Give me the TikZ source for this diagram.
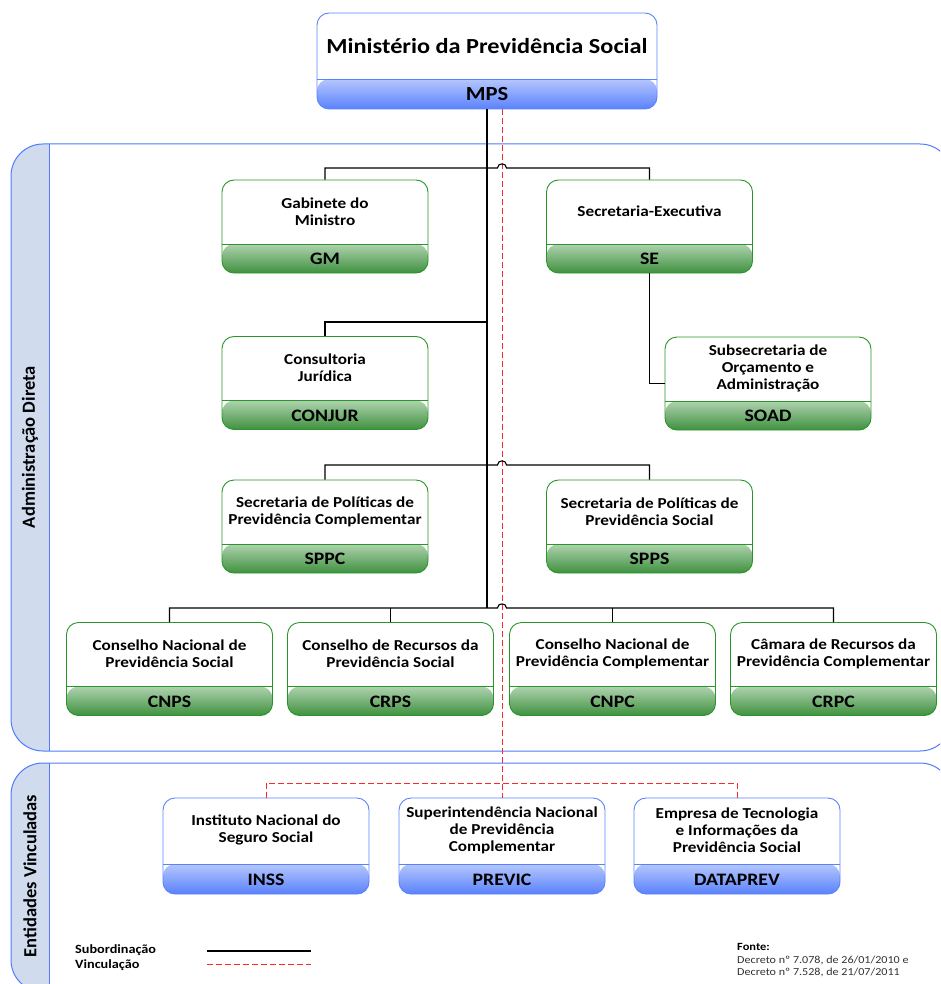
\documentclass[tikz,border=0pt]{standalone}
\usepackage{fontspec}
\setmainfont{Carlito}[FakeStretch=1.13]
\newfontfamily\rotfont{Carlito}
\definecolor{pblue}{RGB}{79,123,255}
\definecolor{bandfill}{RGB}{208,220,238}
\definecolor{gborder}{RGB}{40,150,40}
\definecolor{gtop}{RGB}{230,243,230}
\definecolor{gmid}{RGB}{72,160,72}
\definecolor{gbot}{RGB}{8,112,8}
\definecolor{bborder}{RGB}{90,130,255}
\definecolor{btop}{RGB}{226,233,255}
\definecolor{bmid}{RGB}{118,150,254}
\definecolor{bbot}{RGB}{45,95,250}
\definecolor{vred}{RGB}{255,40,40}
\definecolor{fontegray}{RGB}{50,50,50}
\tikzset{
  box/.style={rounded corners=12pt, fill=white, inner sep=0pt, line width=0.9pt},
  band/.style n args={5}{path picture={
      \begin{scope}
      \clip (path picture bounding box.south west) rectangle ([yshift=#4]path picture bounding box.south east);
      \shade[top color=#1, middle color=#2, bottom color=#3]
        ([yshift=-0.5*#4]path picture bounding box.south west) rectangle ([yshift=1.5*#4]path picture bounding box.south east);
      \end{scope}
      \draw[#5, line width=0.9pt]
        ([yshift=#4]path picture bounding box.south west) -- ([yshift=#4]path picture bounding box.south east);}},
  gbox/.style={box, draw=gborder, minimum width=206pt, minimum height=93pt, band={gtop}{gmid}{gbot}{29pt}{gborder}},
  bbox/.style={box, draw=bborder, minimum width=206pt, minimum height=96pt, band={btop}{bmid}{bbot}{30pt}{bborder}},
  mbox/.style={box, draw=bborder, minimum width=340pt, minimum height=96pt, band={btop}{bmid}{bbot}{30pt}{bborder}},
  ttl/.style={align=center, inner sep=0pt, font=\fontsize{15.2}{17}\selectfont\bfseries},
  code/.style={inner sep=0pt, font=\fontsize{17.5}{20}\selectfont\bfseries},
  sub/.style={draw=black, line width=1.1pt},
  vin/.style={draw=vred, line width=1pt, dash pattern=on 6pt off 3pt},
  panel/.style={draw=pblue, line width=1pt},
  sidelabel/.style={rotate=90, inner sep=0pt, font=\rotfont\fontsize{18.5}{20}\selectfont\bfseries},
  leg/.style={inner sep=0pt, font=\fontsize{12.6}{13}\selectfont\bfseries},
}
\newcommand\orgbox[6]{%
  \node[#1] (#2) at (#3) {};
  \node[ttl] (#2-t) at ([yshift=#6]#2.north) {#4};
  \node[code] (#2-c) at ([yshift=14.5pt]#2.south) {#5};}
\begin{document}
\begin{tikzpicture}[x=1pt, y=-1pt]
\useasboundingbox (0,0) rectangle (940,984);
\clip (0,0) rectangle (940,984);

% panels
\begin{scope}
  \clip[rounded corners=32pt] (11,144) rectangle (952,751);
  \fill[bandfill] (11,144) rectangle (49.5,751);
\end{scope}
\draw[panel, rounded corners=32pt] (11,144) rectangle (952,751);
\draw[panel] (49.5,144) -- (49.5,751);
\begin{scope}
  \clip[rounded corners=32pt] (11,763) rectangle (952,992);
  \fill[bandfill] (11,763) rectangle (49.5,992);
\end{scope}
\draw[panel, rounded corners=32pt] (11,763) rectangle (952,992);
\draw[panel] (49.5,763) -- (49.5,992);

\node[sidelabel] (adlabel) at (30,447) {Administração Direta};
\node[sidelabel] (evlabel) at (30,876) {Entidades Vinculadas};

% boxes
\node[mbox] (mps) at (487,61) {};
\node[inner sep=0pt, font=\fontsize{21.5}{22}\selectfont\bfseries] (mps-t) at ([yshift=-33pt]mps.north) {Ministério da Previdência Social};
\node[inner sep=0pt, font=\fontsize{20}{22}\selectfont\bfseries] (mps-c) at ([yshift=15pt]mps.south) {MPS};

\orgbox{gbox}{gm}{325,226.5}{Gabinete do\\Ministro}{GM}{-32pt}
\orgbox{gbox}{se}{649.5,226.5}{Secretaria-Executiva}{SE}{-32pt}
\orgbox{gbox}{conjur}{325,383}{Consultoria\\Jurídica}{CONJUR}{-32pt}
\orgbox{gbox}{soad}{768,383.5}{Subsecretaria de\\Orçamento e\\Administração}{SOAD}{-32pt}
\orgbox{gbox}{sppc}{325,526.5}{Secretaria de Políticas de\\Previdência Complementar}{SPPC}{-32pt}
\orgbox{gbox}{spps}{649.5,526.5}{Secretaria de Políticas de\\Previdência Social}{SPPS}{-32pt}
\orgbox{gbox}{cnps}{169.5,669}{Conselho Nacional de\\Previdência Social}{CNPS}{-32pt}
\orgbox{gbox}{crps}{390.5,669}{Conselho de Recursos da\\Previdência Social}{CRPS}{-32pt}
\orgbox{gbox}{cnpc}{612.5,669}{Conselho Nacional de\\Previdência Complementar}{CNPC}{-32pt}
\orgbox{gbox}{crpc}{833.5,669}{Câmara de Recursos da\\Previdência Complementar}{CRPC}{-32pt}
\orgbox{bbox}{inss}{266,846}{Instituto Nacional do\\Seguro Social}{INSS}{-32.5pt}
\orgbox{bbox}{previc}{502,846}{Superintendência Nacional\\de Previdência\\Complementar}{PREVIC}{-33pt}
\orgbox{bbox}{dataprev}{737,846}{Empresa de Tecnologia\\e Informações da\\Previdência Social}{DATAPREV}{-33pt}

% coordinates
\coordinate (trunk) at (487,608);
\coordinate (t2) at (487,322);
\coordinate (vl) at (502,783);
\coordinate (h1a) at (497.5,168); \coordinate (h1b) at (506.5,168);
\coordinate (h3a) at (497.5,465); \coordinate (h3b) at (506.5,465);
\coordinate (h4a) at (497.5,608); \coordinate (h4b) at (506.5,608);

% vinculação
\draw[vin] ([xshift=15pt]mps.south) -- (previc.north);
\draw[vin] (inss.north) |- (vl) -| (dataprev.north);

% subordinação
\draw[sub] (mps.south) -- (trunk);
\draw[sub] (gm.north) |- (h1a) .. controls +(0,-5.5) and +(0,-5.5) .. (h1b) -| (se.north);
\draw[sub] (conjur.north) |- (t2);
\draw[sub] (se.south) |- (soad.west);
\draw[sub] (sppc.north) |- (h3a) .. controls +(0,-5.5) and +(0,-5.5) .. (h3b) -| (spps.north);
\draw[sub] (cnps.north) |- (h4a) .. controls +(0,-5.5) and +(0,-5.5) .. (h4b) -| (crpc.north);
\draw[sub] (crps.north) -- (crps.north |- trunk);
\draw[sub] (cnpc.north) -- (cnpc.north |- trunk);

% legend
\node[leg, anchor=west] (lsub) at (75,950) {Subordinação};
\node[leg, anchor=west] (lvin) at (75,965) {Vinculação};
\coordinate (ls1) at (207,951); \coordinate (ls2) at (311,951);
\coordinate (lv1) at (207,964.5); \coordinate (lv2) at (311,964.5);
\draw[sub] (ls1) -- (ls2);
\draw[vin] (lv1) -- (lv2);

% fonte
\node[anchor=west, inner sep=0pt, font=\fontsize{11}{12}\selectfont\bfseries] (fonte) at (737,946.5) {Fonte:};
\node[anchor=west, inner sep=0pt, text=fontegray, font=\fontsize{10.7}{12}\selectfont] (dec1) at (737,960) {Decreto nº 7.078, de 26/01/2010 e};
\node[anchor=west, inner sep=0pt, text=fontegray, font=\fontsize{10.7}{12}\selectfont] (dec2) at (737,972.5) {Decreto nº 7.528, de 21/07/2011};
\end{tikzpicture}
\end{document}
